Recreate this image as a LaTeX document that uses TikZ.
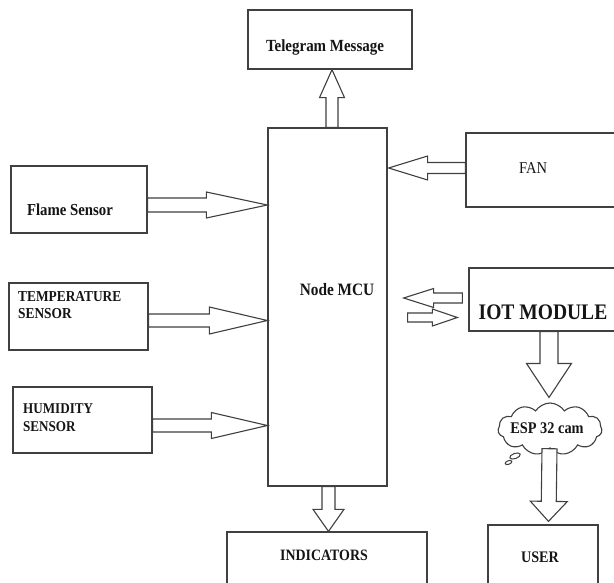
\documentclass[tikz,border=0pt]{standalone}
\usepackage{fontspec}
\setmainfont{Liberation Serif}
\newfontfamily\tnr[FakeStretch=0.88]{Liberation Serif}
\usetikzlibrary{calc,shapes.symbols}
\definecolor{edge}{HTML}{404040}
\definecolor{ink}{HTML}{151515}
\tikzset{
  box/.style={draw=edge, line width=1.3pt, inner sep=0pt, fill=white},
  lbl/.style={inner sep=0pt, text=ink, font=\tnr\bfseries},
  arrowline/.style={draw=edge, line width=1.1pt, fill=white, line join=miter},
}
\newcommand\blockarr[5]{%
  \coordinate (bS) at (#1);
  \coordinate (bT) at (#2);
  \coordinate (bH) at ($(bT)!#5pt!(bS)$);
  \draw[arrowline] ($(bS)!#3pt!90:(bT)$) -- ($(bH)!#3pt!90:(bT)$) -- ($(bH)!#4pt!90:(bT)$)
    -- (bT) -- ($(bH)!#4pt!-90:(bT)$) -- ($(bH)!#3pt!-90:(bT)$) -- ($(bS)!#3pt!-90:(bT)$) -- cycle;}
\begin{document}
\begin{tikzpicture}[x=1pt,y=-1pt]
\useasboundingbox[fill=white] (0,0) rectangle (614,582);
% boxes
\node[box, minimum width=164pt, minimum height=59pt] (tele) at (330,39.5) {};
\node[box, minimum width=119pt, minimum height=358pt] (mcu) at (327.5,307) {};
\node[box, minimum width=136pt, minimum height=67pt] (flame) at (79,199.5) {};
\node[box, minimum width=139pt, minimum height=67pt] (temp) at (78.5,316.5) {};
\node[box, minimum width=139pt, minimum height=66pt] (hum) at (82.5,420) {};
\node[box, minimum width=150pt, minimum height=74pt] (fan) at (541,170) {};
\node[box, minimum width=147pt, minimum height=63pt] (iot) at (542.5,299.5) {};
\node[box, minimum width=110pt, minimum height=59pt] (user) at (543,554.5) {};
\node[box, minimum width=200pt, minimum height=52pt] (ind) at (327,558) {};
\node[draw=edge, line width=1.1pt, cloud, cloud puffs=11, cloud puff arc=115, aspect=2,
      minimum width=104pt, minimum height=52pt, inner sep=0pt] (cloud) at (550,429) {};
\draw[draw=edge, line width=1pt] (515,456) ellipse [x radius=5.5, y radius=2.6, rotate=20];
\draw[draw=edge, line width=1pt] (508.5,462.5) ellipse [x radius=3.5, y radius=1.8, rotate=20];
% labels
\node[lbl, font=\tnr\bfseries\fontsize{17}{20}\selectfont] (teleT) at (325,47) {Telegram Message};
\node[lbl, font=\tnr\bfseries\fontsize{17.4}{20}\selectfont] (mcuT) at (337,290) {Node MCU};
\node[lbl, font=\tnr\bfseries\fontsize{16.8}{20}\selectfont] (flameT) at (70,210) {Flame Sensor};
\node[lbl, anchor=west, align=left, font=\tnr\bfseries\fontsize{15.2}{17}\selectfont] (tempT) at (18,305.5) {TEMPERATURE\\SENSOR};
\node[lbl, anchor=west, align=left, font=\tnr\bfseries\fontsize{14.9}{18}\selectfont] (humT) at (23,418) {HUMIDITY\\SENSOR};
\node[lbl, font=\tnr\fontsize{16.5}{20}\selectfont] (fanT) at (533,168) {FAN};
\node[lbl, font=\tnr\bfseries\fontsize{22.2}{26}\selectfont] (iotT) at (543,312) {IOT MODULE};
\node[lbl, font=\tnr\bfseries\fontsize{16.3}{20}\selectfont] (espT) at (547,428) {ESP 32 cam};
\node[lbl, font=\tnr\bfseries\fontsize{16.1}{20}\selectfont] (userT) at (540,557) {USER};
\node[lbl, font=\tnr\bfseries\fontsize{15.8}{20}\selectfont] (indT) at (324,555) {INDICATORS};
% block arrows
\blockarr{$(flame.east)+(0,5.5)$}{$(mcu.west |- flame.east)+(0,5.5)$}{7}{13}{61}
\blockarr{$(temp.east)+(0,4)$}{$(mcu.west |- temp.east)+(0,4)$}{6.5}{13.5}{58}
\blockarr{$(hum.east)+(0,5.5)$}{$(mcu.west |- hum.east)+(0,5.5)$}{6.5}{13}{56}
\blockarr{$(fan.west)+(0,-2)$}{$(mcu.east |- fan.west)+(1,-2)$}{5.5}{12}{39}
\blockarr{$(iot.west)+(-6,-1.5)$}{$(mcu.east |- iot.west)+(16,-1.5)$}{5}{9.5}{30}
\blockarr{$(mcu.east |- iot.west)+(20,18)$}{$(iot.west)+(-11,18)$}{4.5}{8.5}{25}
\blockarr{$(mcu.north)+(4.5,0)$}{$(tele.south -| mcu.north)+(4.5,0)$}{6}{12.5}{28}
\blockarr{$(mcu.south)+(1,0)$}{$(ind.north -| mcu.south)+(1,0)$}{6.5}{15.5}{22}
\blockarr{$(iot.south -| cloud.north)+(-1,0)$}{$(cloud.north)+(-1,-5)$}{9}{22.5}{34}
\blockarr{$(cloud.south)+(-0.5,0)$}{$(user.north -| cloud.south)+(-1.5,-3)$}{7.5}{18.5}{20}
\end{tikzpicture}
\end{document}
